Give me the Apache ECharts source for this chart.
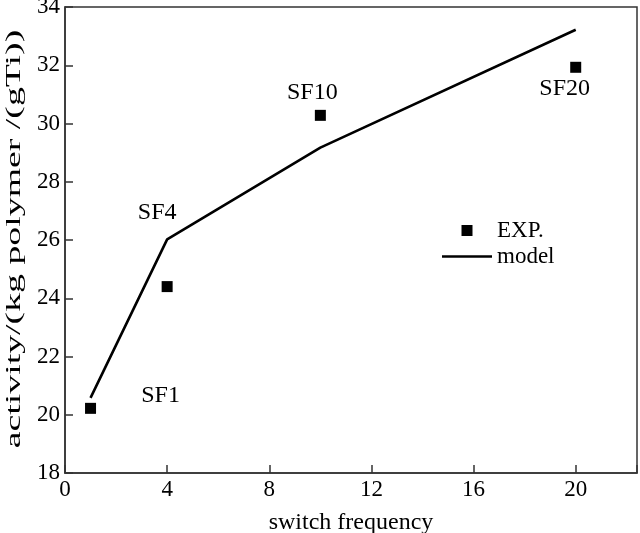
<!DOCTYPE html>
<html>
<head>
<meta charset="utf-8">
<script src="https://cdn.jsdelivr.net/npm/echarts@6/dist/echarts.min.js"></script>
<style>html,body{margin:0;padding:0;background:#fff}#c{width:640px;height:533px}</style>
</head>
<body>
<div id="c"></div>
<script>
// ---- data ----
const expX = [1, 4, 10, 20];
const expY = [20.22, 24.40, 30.28, 31.93];
const expNames = ['SF1', 'SF4', 'SF10', 'SF20'];
const modelX = [1, 4, 10, 20];
const modelY = [20.58, 26.02, 29.17, 33.22];
const xTicks = [0, 4, 8, 12, 16, 20];
const yTicks = [18, 20, 22, 24, 26, 28, 30, 32, 34];
const xTitle = 'switch frequency';
const yTitle = 'activity/(kg polymer /(gTi))';
const legendNames = ['EXP.', 'model'];

// label offsets (style only)
const labelOffsets = { SF1: [70, -13], SF4: [-10, -74], SF10: [-8, -23], SF20: [-11, 21] };

const FONT = '"Liberation Serif", "Times New Roman", serif';
const chart = echarts.init(document.getElementById('c'), null, { renderer: 'canvas' });

chart.setOption({
  animation: false,
  backgroundColor: '#fff',
  grid: { left: 65, right: 3, top: 7, bottom: 60, show: true, borderColor: '#333', borderWidth: 1.5,
    containLabel: false, outerBoundsMode: 'none' },
  xAxis: {
    type: 'value', min: 0, max: 22.4, interval: 4,
    name: xTitle, nameLocation: 'middle', nameGap: 38,
    nameTextStyle: { fontFamily: FONT, fontSize: 24, color: '#000' },
    axisLine: { lineStyle: { color: '#333', width: 1.5 } },
    axisTick: { inside: true, length: 8, lineStyle: { color: '#333', width: 1.5 } },
    axisLabel: { fontFamily: FONT, fontSize: 23, color: '#000', margin: 5,
      customValues: xTicks, formatter: v => String(v) },
    splitLine: { show: false }
  },
  yAxis: {
    type: 'value', min: 18, max: 34, interval: 2,
    axisLine: { lineStyle: { color: '#333', width: 1.5 } },
    axisTick: { inside: true, length: 8, lineStyle: { color: '#333', width: 1.5 } },
    axisLabel: { fontFamily: FONT, fontSize: 23, color: '#000', margin: 5,
      customValues: yTicks, formatter: v => String(v) },
    splitLine: { show: false }
  },
  legend: {
    left: 437, top: 214, orient: 'vertical', itemWidth: 50, itemHeight: 11, itemGap: 3,
    symbolKeepAspect: true,
    textStyle: { fontFamily: FONT, fontSize: 23, color: '#000' },
    data: [
      { name: legendNames[0], icon: 'path://M0,0H10V10H0Z', itemStyle: { color: '#000', opacity: 1 } },
      { name: legendNames[1], icon: 'path://M0,0H50V2.6H0Z', itemStyle: { color: '#000', opacity: 1 } }
    ]
  },
  series: [
    {
      name: legendNames[1], type: 'line', symbol: 'none', showSymbol: false,
      lineStyle: { color: '#000', width: 2.6 }, itemStyle: { color: '#000' },
      data: modelX.map((x, i) => [x, modelY[i]]), z: 2
    },
    {
      name: legendNames[0], type: 'scatter', symbol: 'rect', symbolSize: 11,
      itemStyle: { color: '#000', opacity: 1 },
      data: expX.map((x, i) => ({
        value: [x, expY[i]], name: expNames[i],
        label: { show: true, formatter: expNames[i], position: 'inside', offset: labelOffsets[expNames[i]],
          fontFamily: FONT, fontSize: 24, color: '#000', opacity: 1 }
      })), z: 3
    }
  ],
  graphic: [{
    type: 'text', x: 14, y: 239, rotation: Math.PI / 2, scaleX: 1.8,
    style: { text: yTitle, fontFamily: FONT, fontSize: 21, fill: '#000', align: 'center', verticalAlign: 'middle' }
  }]
});
</script>
</body>
</html>
